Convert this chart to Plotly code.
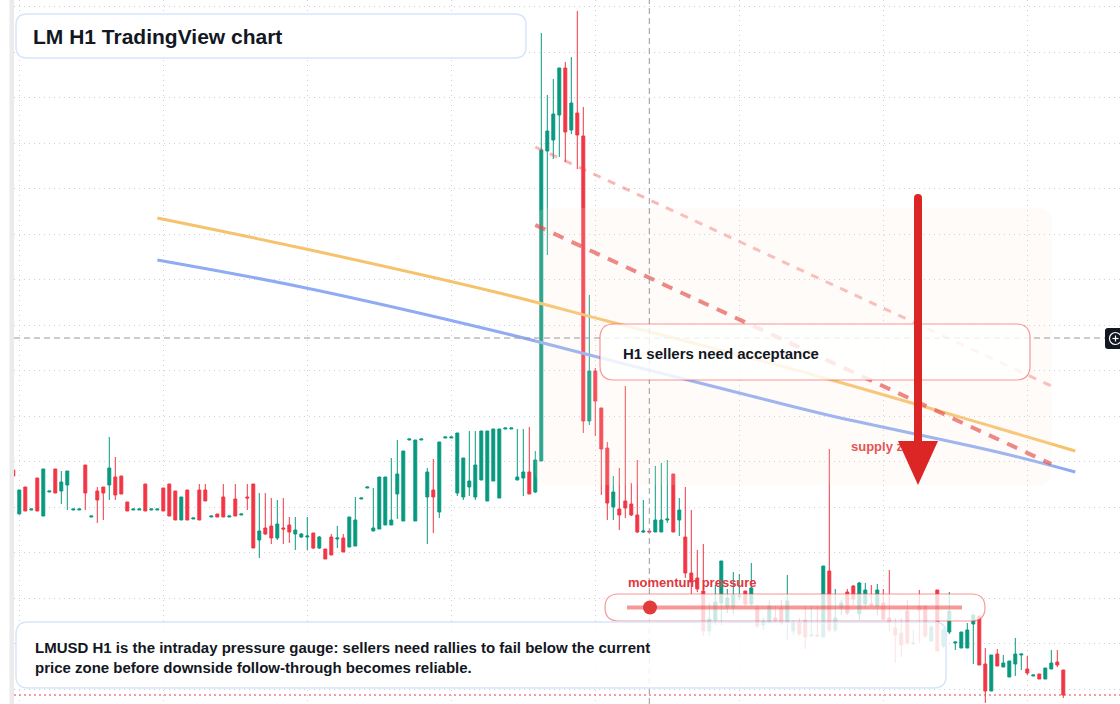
import plotly.graph_objects as go

# ---------------- data (H1 bars, price units) ----------------
bars = list(range(-1, 175))
open_ = [2.34, 1.90, 2.17, 1.94, 2.26, 1.88, 2.12, 2.35, 2.13, 2.19,
         1.94, 1.94, 2.39, 1.87, 2.13, 2.17, 2.19, 2.27, 2.28, 2.02,
         1.94, 1.94, 2.20, 1.94, 1.94, 2.16, 2.20, 2.13, 1.84, 2.14,
         1.85, 2.14, 2.14, 1.87, 1.90, 2.07, 1.87, 2.05, 1.89, 2.07,
         2.20, 1.64, 1.76, 1.78, 1.66, 1.76, 1.79, 1.70, 1.67, 1.67,
         1.71, 1.56, 1.55, 1.67, 1.65, 1.66, 1.57, 1.58, 2.05, 2.16,
         1.73, 1.75, 1.79, 1.79, 2.10, 1.83, 2.64, 1.83, 2.64, 2.07,
         2.14, 1.92, 2.66, 2.66, 2.11, 2.07, 2.17, 2.07, 2.24, 2.03,
         2.23, 2.06, 2.75, 2.75, 2.24, 2.26, 2.32, 2.12, 2.43, 5.53,
         5.64, 5.89, 6.36, 5.74, 5.91, 5.68, 2.83, 3.33, 2.96, 2.56,
         1.97, 1.95, 2.03, 2.00, 1.89, 1.72, 1.73, 1.72, 1.72, 1.84,
         2.30, 1.84, 1.67, 1.31, 1.26, 1.13, 0.73, 0.84, 1.01, 0.97,
         0.97, 1.07, 1.13, 1.00, 0.96, 0.79, 0.82, 0.86, 0.96, 0.82,
         0.73, 0.81, 0.84, 0.68, 0.69, 0.67, 1.33, 0.74, 0.96, 1.12,
         1.18, 0.90, 1.00, 1.00, 0.98, 1.01, 0.86, 0.76, 0.71, 0.93,
         0.60, 0.98, 0.98, 0.63, 1.14, 0.58, 0.72, 0.61, 0.56, 0.56,
         0.80, 0.88, 0.40, 0.13, 0.50, 0.37, 0.27, 0.40, 0.49, 0.35,
         0.28, 0.30, 0.25, 0.35, 0.42, 0.34]
high = [2.34, 2.14, 2.17, 1.95, 2.26, 2.35, 2.13, 2.35, 2.33, 2.33,
        1.95, 1.95, 2.39, 1.88, 2.17, 2.17, 2.67, 2.47, 2.28, 2.02,
        1.95, 1.95, 2.20, 1.95, 1.95, 2.16, 2.20, 2.13, 2.07, 2.14,
        1.86, 2.20, 2.20, 1.88, 1.90, 2.20, 1.88, 2.20, 1.90, 2.20,
        2.20, 2.11, 2.11, 2.06, 2.04, 2.06, 1.87, 1.87, 1.71, 1.87,
        1.71, 1.68, 1.55, 1.70, 1.78, 1.70, 1.87, 2.07, 2.06, 2.17,
        2.16, 2.27, 2.27, 2.46, 2.64, 2.53, 2.65, 2.64, 2.65, 2.36,
        2.45, 2.62, 2.67, 2.67, 2.71, 2.46, 2.73, 2.73, 2.73, 2.73,
        2.75, 2.75, 2.76, 2.76, 2.75, 2.75, 2.77, 2.53, 6.71, 6.09,
        6.25, 6.36, 6.42, 6.47, 6.93, 5.97, 4.09, 3.36, 2.96, 2.62,
        2.28, 2.36, 3.18, 2.21, 2.44, 2.04, 1.73, 2.38, 2.41, 2.44,
        2.30, 2.06, 2.17, 1.94, 1.54, 1.60, 1.01, 1.19, 1.43, 1.15,
        1.32, 1.30, 1.13, 1.41, 0.99, 0.86, 1.04, 0.98, 1.04, 1.29,
        0.84, 0.86, 0.98, 0.98, 0.98, 1.38, 2.55, 1.15, 1.04, 1.15,
        1.19, 1.22, 1.21, 1.19, 1.20, 1.15, 1.34, 0.86, 0.86, 1.04,
        0.74, 1.14, 0.99, 0.79, 1.14, 0.76, 1.12, 0.62, 0.72, 0.81,
        0.90, 0.88, 0.56, 0.49, 0.55, 0.49, 0.43, 0.66, 0.50, 0.48,
        0.29, 0.30, 0.36, 0.54, 0.54, 0.34]
low = [2.28, 1.90, 1.93, 1.94, 1.93, 1.88, 2.12, 2.11, 2.00, 1.94,
       1.94, 1.94, 1.94, 1.87, 1.81, 1.84, 2.04, 2.04, 2.10, 1.93,
       1.94, 1.94, 1.93, 1.94, 1.94, 1.93, 1.88, 1.84, 1.84, 1.84,
       1.85, 1.84, 2.03, 1.87, 1.87, 1.87, 1.87, 1.88, 1.89, 1.94,
       1.56, 1.46, 1.69, 1.60, 1.64, 1.60, 1.61, 1.54, 1.66, 1.54,
       1.55, 1.55, 1.45, 1.49, 1.56, 1.52, 1.57, 1.58, 2.05, 2.16,
       1.73, 1.75, 1.79, 1.79, 1.85, 1.83, 2.64, 1.83, 2.64, 1.60,
       1.71, 1.86, 2.66, 2.66, 2.08, 2.04, 2.08, 2.04, 2.24, 2.03,
       2.23, 2.06, 2.75, 2.75, 2.24, 2.08, 2.10, 2.11, 2.43, 4.49,
       5.45, 5.47, 5.42, 5.70, 5.35, 2.71, 2.79, 2.68, 2.09, 1.84,
       1.84, 1.74, 1.86, 1.88, 1.71, 1.71, 1.72, 1.72, 1.72, 1.81,
       1.72, 1.68, 1.26, 1.10, 1.12, 0.68, 0.68, 0.79, 0.79, 0.91,
       0.90, 1.04, 0.98, 0.98, 0.76, 0.74, 0.81, 0.82, 0.79, 0.64,
       0.69, 0.68, 0.55, 0.68, 0.68, 0.67, 0.72, 0.72, 0.89, 0.89,
       0.99, 0.84, 0.95, 0.98, 0.89, 0.84, 0.73, 0.41, 0.47, 0.59,
       0.60, 0.61, 0.66, 0.62, 0.53, 0.56, 0.70, 0.54, 0.56, 0.56,
       0.40, 0.39, 0.01, 0.13, 0.38, 0.37, 0.27, 0.28, 0.34, 0.29,
       0.28, 0.25, 0.25, 0.35, 0.37, 0.06]
close = [2.28, 2.14, 1.93, 1.95, 1.93, 2.35, 2.13, 2.11, 2.22, 2.33,
         1.95, 1.95, 2.11, 1.88, 2.04, 2.11, 2.36, 2.09, 2.10, 1.93,
         1.95, 1.95, 1.93, 1.95, 1.95, 1.93, 1.88, 1.84, 2.07, 1.84,
         1.86, 1.84, 2.03, 1.88, 1.87, 1.87, 1.88, 1.88, 1.90, 2.06,
         1.56, 1.73, 1.70, 1.66, 1.80, 1.75, 1.72, 1.74, 1.70, 1.68,
         1.56, 1.67, 1.45, 1.49, 1.66, 1.52, 1.87, 1.84, 2.06, 2.17,
         1.76, 2.27, 2.27, 1.84, 2.30, 2.53, 2.65, 2.64, 2.65, 2.32,
         2.07, 2.62, 2.67, 2.67, 2.71, 2.46, 2.23, 2.39, 2.73, 2.73,
         2.75, 2.75, 2.76, 2.76, 2.27, 2.32, 2.10, 2.44, 5.54, 5.73,
         5.90, 6.36, 5.72, 6.01, 5.69, 2.83, 3.33, 3.03, 2.55, 2.01,
         2.12, 1.89, 1.96, 1.89, 1.72, 1.73, 1.72, 1.84, 1.84, 1.85,
         1.72, 1.94, 1.31, 1.22, 1.15, 0.73, 0.85, 1.02, 1.43, 1.06,
         1.09, 1.08, 1.00, 1.16, 0.78, 0.83, 0.98, 0.83, 0.81, 1.03,
         0.81, 0.70, 0.67, 0.69, 0.68, 1.38, 0.74, 0.86, 1.01, 0.91,
         1.05, 1.21, 1.14, 0.99, 1.14, 0.85, 0.82, 0.69, 0.59, 0.61,
         0.61, 0.94, 0.68, 0.77, 0.53, 0.74, 0.93, 0.62, 0.72, 0.74,
         0.89, 0.39, 0.13, 0.49, 0.38, 0.41, 0.43, 0.50, 0.50, 0.31,
         0.29, 0.25, 0.36, 0.41, 0.39, 0.09]

# indicator curves (read at bar positions)
orange_bars = [23, 47, 80, 98, 130, 163, 176]
orange_vals = [4.86, 4.56, 4.11, 3.83, 3.33, 2.76, 2.53]
blue_bars = [23, 47, 80, 97, 120, 134, 163, 176]
blue_vals = [4.44, 4.17, 3.72, 3.46, 3.11, 2.90, 2.52, 2.32]
# descending trend lines
upper_tl_bars = [86, 172]
upper_tl_vals = [5.57, 3.18]
lower_tl_bars = [86, 172]
lower_tl_vals = [4.79, 2.40]
crosshair_bar = 105
crosshair_price = 3.66

title_text = "LM H1 TradingView chart"
zone_text = "H1 sellers need acceptance"
pressure_text = "momentum pressure"
supply_text = "supply zone"
note_text = ("LMUSD H1 is the intraday pressure gauge: sellers need rallies to fail below the current"
             "<br>price zone before downside follow-through becomes reliable.")

GREEN = "#089981"
RED = "#f23645"
FONT = "Liberation Sans, Arial, sans-serif"

W, H = 1120, 704
ML = 14


def PX(x):
    return (x - ML) / (W - ML)


def PY(y):
    return 1 - y / H


def rrect(x0, y0, x1, y1, r):
    return (f"M{PX(x0 + r)},{PY(y0)} L{PX(x1 - r)},{PY(y0)} Q{PX(x1)},{PY(y0)} {PX(x1)},{PY(y0 + r)} "
            f"L{PX(x1)},{PY(y1 - r)} Q{PX(x1)},{PY(y1)} {PX(x1 - r)},{PY(y1)} "
            f"L{PX(x0 + r)},{PY(y1)} Q{PX(x0)},{PY(y1)} {PX(x0)},{PY(y1 - r)} "
            f"L{PX(x0)},{PY(y0 + r)} Q{PX(x0)},{PY(y0)} {PX(x0 + r)},{PY(y0)} Z")


fig = go.Figure()
fig.add_trace(go.Candlestick(
    x=bars, open=open_, high=high, low=low, close=close,
    increasing=dict(line=dict(color=GREEN, width=1), fillcolor=GREEN),
    decreasing=dict(line=dict(color=RED, width=1), fillcolor=RED),
    whiskerwidth=0, hoverinfo="skip", showlegend=False))

fig.add_trace(go.Scatter(x=orange_bars, y=orange_vals, mode="lines", line_shape="spline",
                         line=dict(color="#f7c26d", width=3), hoverinfo="skip", showlegend=False))
fig.add_trace(go.Scatter(x=blue_bars, y=blue_vals, mode="lines", line_shape="spline",
                         line=dict(color="#8fabf4", width=3), hoverinfo="skip", showlegend=False))
fig.add_trace(go.Scatter(x=upper_tl_bars, y=upper_tl_vals, mode="lines",
                         line=dict(color="rgba(239,68,68,0.38)", width=3, dash="8px,8px"),
                         hoverinfo="skip", showlegend=False))
fig.add_trace(go.Scatter(x=lower_tl_bars, y=lower_tl_vals, mode="lines",
                         line=dict(color="rgba(222,45,45,0.65)", width=4, dash="11px,9px"),
                         hoverinfo="skip", showlegend=False))

shapes = []
# supply zone
shapes.append(dict(type="path", xref="paper", yref="paper", path=rrect(535, 208, 1052, 485, 14),
                   fillcolor="rgba(250,228,214,0.16)", line=dict(width=0), layer="above"))
# crosshair
shapes.append(dict(type="line", xref="x", yref="paper", x0=crosshair_bar, x1=crosshair_bar, y0=0, y1=1,
                   line=dict(color="#9598a1", width=1, dash="6px,4px"), layer="above"))
shapes.append(dict(type="line", xref="paper", yref="y", x0=0, x1=PX(1105), y0=crosshair_price, y1=crosshair_price,
                   line=dict(color="#9598a1", width=1, dash="6px,4px"), layer="above"))
# last price line
shapes.append(dict(type="line", xref="paper", yref="y", x0=0, x1=1, y0=close[-1], y1=close[-1],
                   line=dict(color=RED, width=1, dash="2px,3px"), layer="above"))
# H1 sellers box
shapes.append(dict(type="path", xref="paper", yref="paper", path=rrect(600, 324, 1030, 380, 14),
                   fillcolor="rgba(255,255,255,0.82)", line=dict(color="rgba(239,68,68,0.55)", width=1.2),
                   layer="above"))
# momentum box
shapes.append(dict(type="path", xref="paper", yref="paper", path=rrect(605, 594, 985, 621, 13.5),
                   fillcolor="rgba(255,255,255,0.78)", line=dict(color="rgba(239,68,68,0.55)", width=1.2),
                   layer="above"))
shapes.append(dict(type="line", xref="paper", yref="paper", x0=PX(627), x1=PX(962), y0=PY(607.5), y1=PY(607.5),
                   line=dict(color="rgba(239,68,68,0.55)", width=4), layer="above"))
shapes.append(dict(type="circle", xref="paper", yref="paper", x0=PX(643), x1=PX(657), y0=PY(600.5), y1=PY(614.5),
                   fillcolor="#e23b3b", line=dict(color="#e23b3b", width=0), layer="above"))
# bottom note box
shapes.append(dict(type="path", xref="paper", yref="paper", path=rrect(16, 622, 946, 688, 12),
                   fillcolor="rgba(255,255,255,0.86)", line=dict(color="#d9e5fb", width=1.5), layer="above"))
# title box
shapes.append(dict(type="path", xref="paper", yref="paper", path=rrect(16, 14, 526, 58, 11),
                   fillcolor="rgba(255,255,255,0.94)", line=dict(color="#d9e5fb", width=1.5), layer="above"))
# arrow
shapes.append(dict(type="line", xref="paper", yref="paper", x0=PX(918), x1=PX(918), y0=PY(198), y1=PY(446),
                   line=dict(color="#dc2626", width=8), layer="above"))
shapes.append(dict(type="circle", xref="paper", yref="paper", x0=PX(914), x1=PX(922), y0=PY(194), y1=PY(202),
                   fillcolor="#dc2626", line=dict(width=0), layer="above"))
shapes.append(dict(type="path", xref="paper", yref="paper",
                   path=f"M{PX(898)},{PY(441)} L{PX(938)},{PY(441)} L{PX(918)},{PY(485)} Z",
                   fillcolor="#dc2626", line=dict(width=0), layer="above"))
# left strip
shapes.append(dict(type="rect", xref="paper", yref="paper", x0=PX(9.5), x1=PX(14), y0=0, y1=1,
                   fillcolor="#ebebeb", line=dict(width=0), layer="above"))
# crosshair price label (right edge)
shapes.append(dict(type="path", xref="paper", yref="paper", path=rrect(1105, 328, 1128, 349, 3),
                   fillcolor="#131722", line=dict(width=0), layer="above"))
shapes.append(dict(type="circle", xref="paper", yref="paper", x0=PX(1109.5), x1=PX(1121.5), y0=PY(332.5), y1=PY(344.5),
                   line=dict(color="white", width=1.2), layer="above"))
shapes.append(dict(type="line", xref="paper", yref="paper", x0=PX(1112.5), x1=PX(1118.5), y0=PY(338.5), y1=PY(338.5),
                   line=dict(color="white", width=1.2), layer="above"))
shapes.append(dict(type="line", xref="paper", yref="paper", x0=PX(1115.5), x1=PX(1115.5), y0=PY(335.5), y1=PY(341.5),
                   line=dict(color="white", width=1.2), layer="above"))

annotations = [
    dict(text=f"<b>{title_text}</b>", x=PX(31), y=PY(36), xref="paper", yref="paper",
         xanchor="left", yanchor="middle", showarrow=False, font=dict(family=FONT, size=21, color="#131722")),
    dict(text=f"<b>{zone_text}</b>", x=PX(621), y=PY(353), xref="paper", yref="paper",
         xanchor="left", yanchor="middle", showarrow=False, font=dict(family=FONT, size=15, color="#131722")),
    dict(text=f"<b>{pressure_text}</b>", x=PX(626), y=PY(582), xref="paper", yref="paper",
         xanchor="left", yanchor="middle", showarrow=False, font=dict(family=FONT, size=13, color="#e0383e")),
    dict(text=f"<b>{note_text}</b>", x=PX(33), y=PY(657), xref="paper", yref="paper", align="left",
         xanchor="left", yanchor="middle", showarrow=False, font=dict(family=FONT, size=15, color="#131722")),
]

fig.add_trace(go.Scatter(x=[(851 - 19.3) / 6], y=[(704 - 448) / 100], mode="text", text=[f"<b>{supply_text}</b>"],
                         textposition="middle right", textfont=dict(family=FONT, size=13, color="#e0383e"),
                         hoverinfo="skip", showlegend=False))

fig.update_layout(
    width=W, height=H, margin=dict(l=ML, r=0, t=0, b=0),
    paper_bgcolor="white", plot_bgcolor="white", showlegend=False,
    shapes=shapes, annotations=annotations, hovermode=False,
    xaxis=dict(range=[(ML - 19.3) / 6, (W - 19.3) / 6], rangeslider=dict(visible=False),
               showgrid=True, gridcolor="#cdd0d5", griddash="1px,4px", gridwidth=1.3,
               tick0=0, dtick=24, showticklabels=False, ticks="", zeroline=False, showline=False,
               fixedrange=True),
    yaxis=dict(range=[0, 7.04], showgrid=True, gridcolor="#cdd0d5", griddash="1px,4px", gridwidth=1.3,
               tick0=0.15, dtick=0.455, showticklabels=False, ticks="", zeroline=False, showline=False,
               fixedrange=True),
)

fig.write_html("out.html")
